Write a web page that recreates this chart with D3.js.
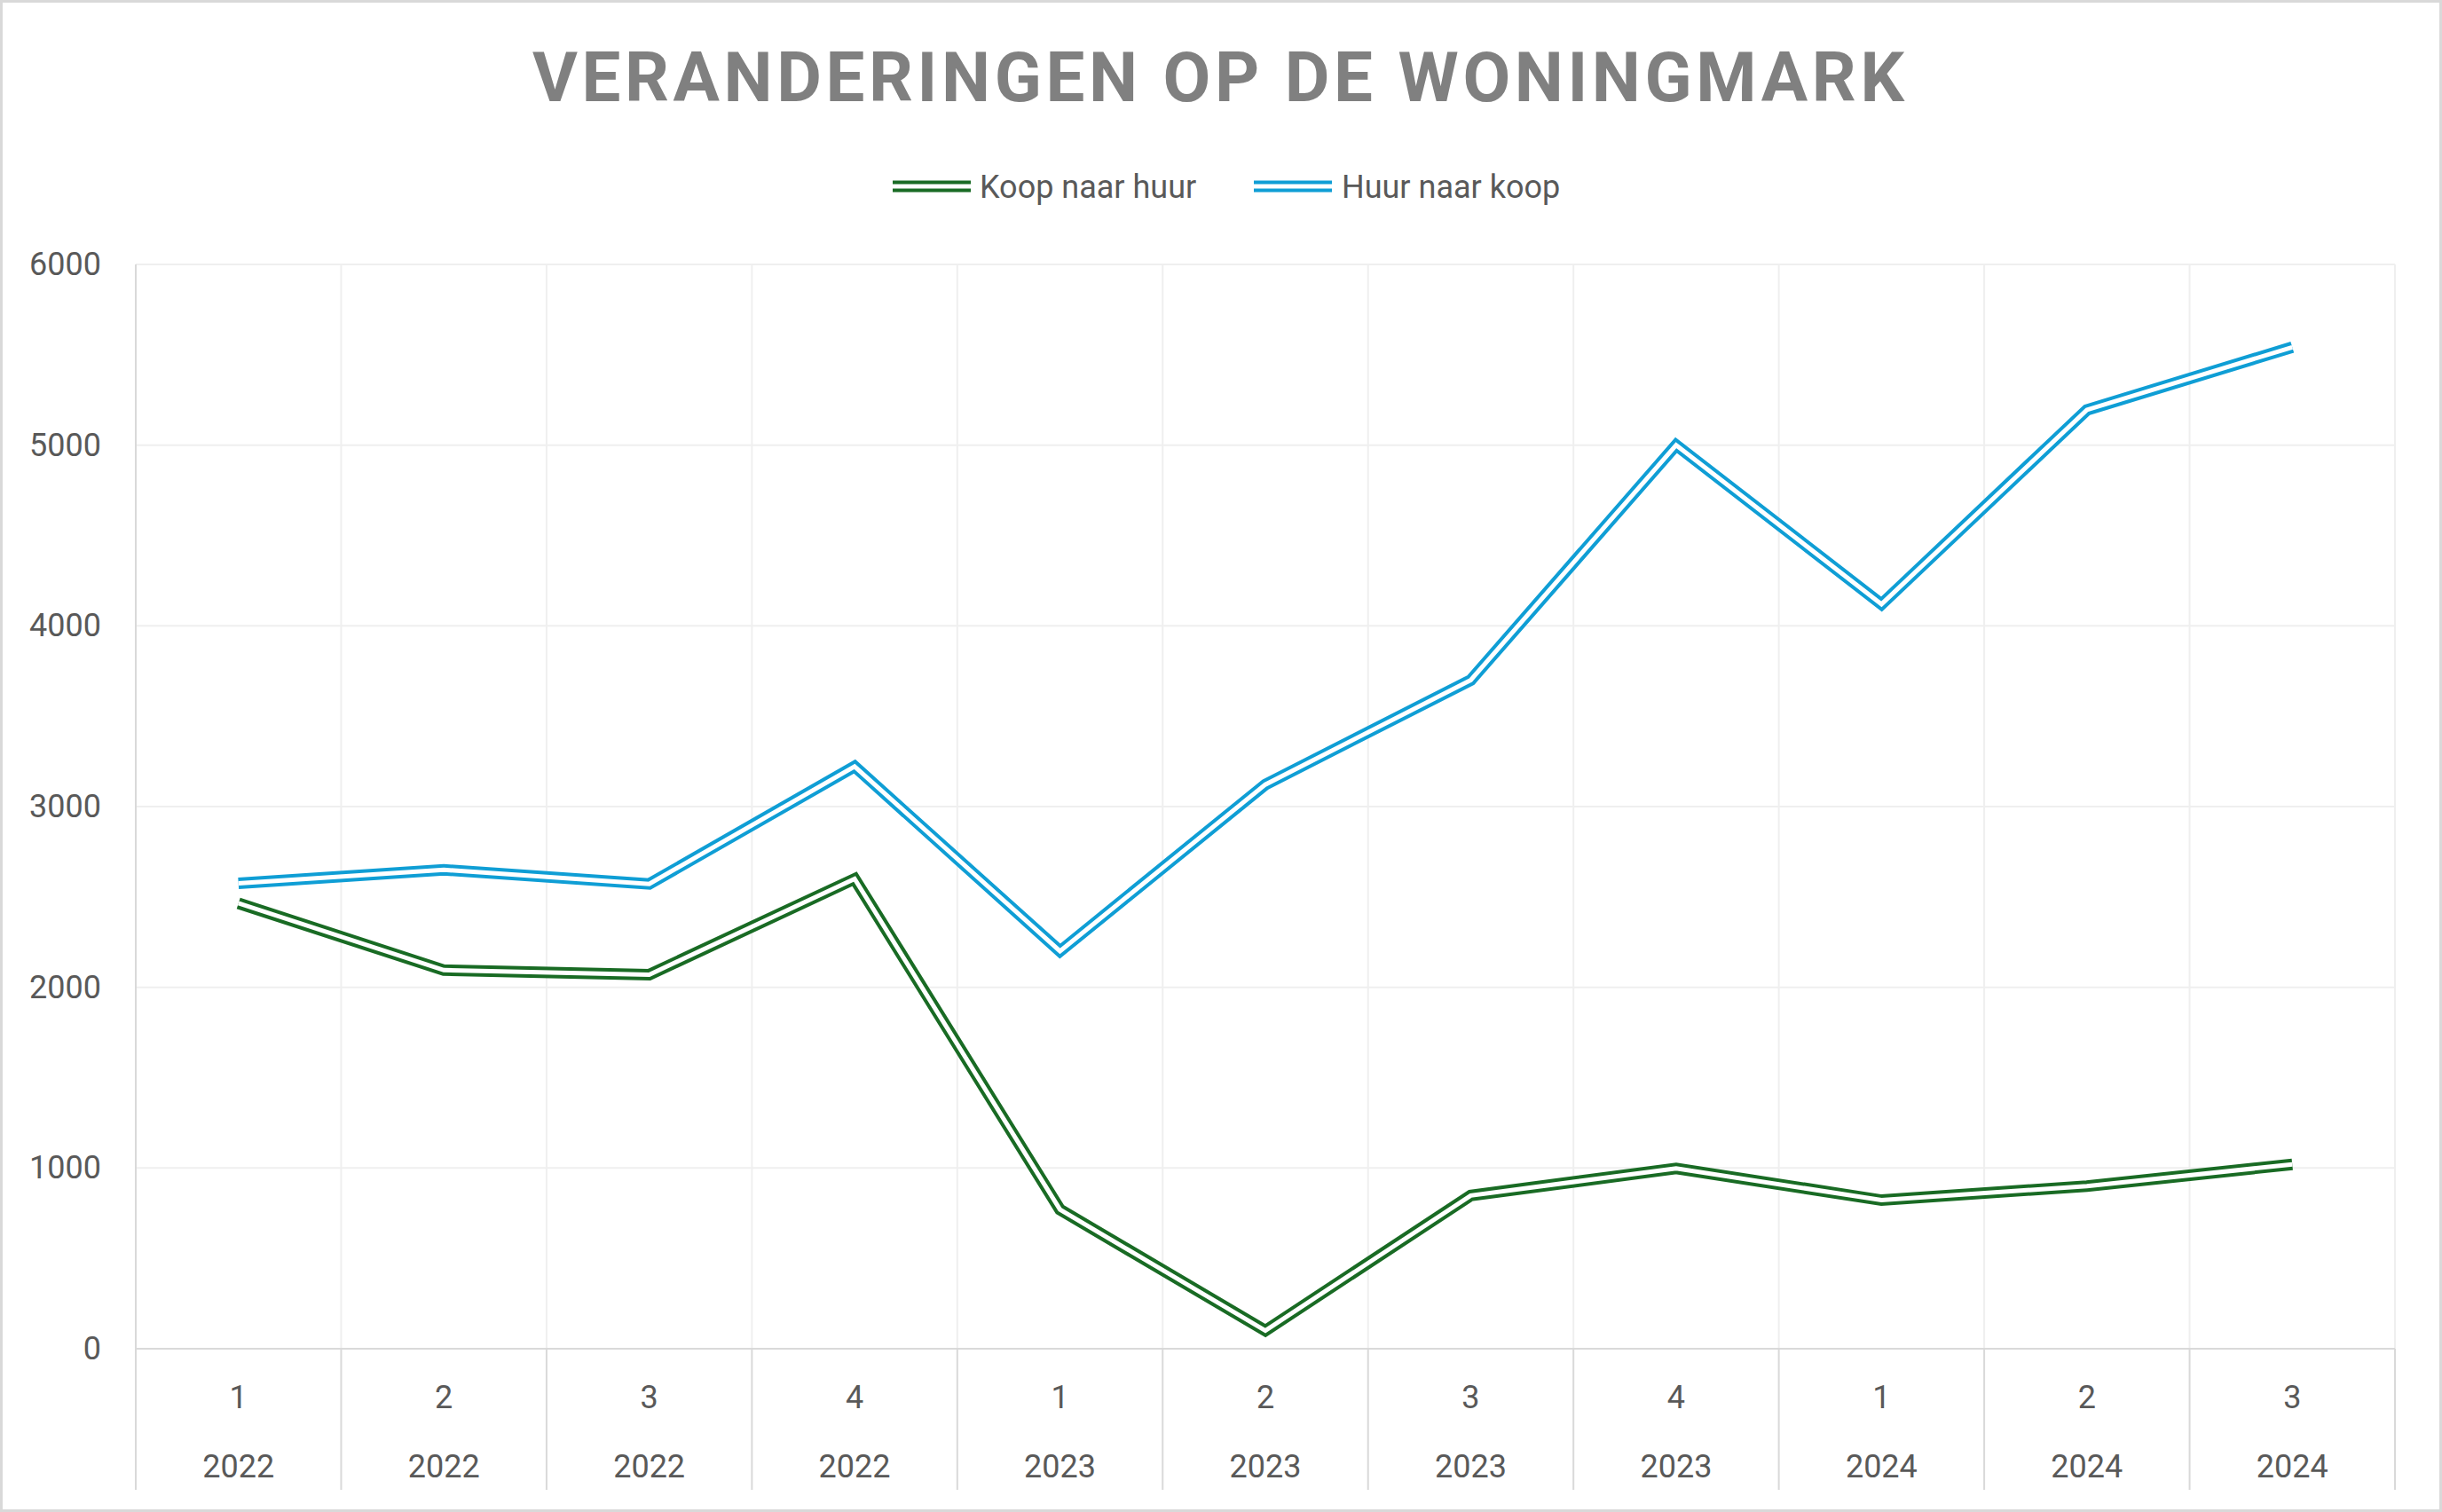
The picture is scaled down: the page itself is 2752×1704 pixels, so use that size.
<!DOCTYPE html>
<html>
<head>
<meta charset="utf-8">
<script src="https://cdn.jsdelivr.net/npm/d3@7"></script>
<style>
  html, body { margin: 0; padding: 0; background: #ffffff; }
  svg { display: block; }
</style>
</head>
<body>
<svg id="chart" width="2752" height="1704"></svg>
<script>
// ---- data ----
const quarters = ["1", "2", "3", "4", "1", "2", "3", "4", "1", "2", "3"];
const years = ["2022", "2022", "2022", "2022", "2023", "2023", "2023", "2023", "2024", "2024", "2024"];
const koopNaarHuur = [2465, 2095, 2070, 2600, 770, 100, 848, 998, 822, 900, 1020];
const huurNaarKoop = [2575, 2650, 2572, 3222, 2200, 3122, 3700, 5000, 4120, 5195, 5542];
const yTicks = [0, 1000, 2000, 3000, 4000, 5000, 6000];
const seriesNames = ["Koop naar huur", "Huur naar koop"];
const seriesColors = ["#196B24", "#0F9ED5"];
const titleText = "VERANDERINGEN OP DE WONINGMARK";

// ---- layout ----
const W = 2752, H = 1704;
const plot = { left: 153, right: 2699, top: 298, bottom: 1520 };
const catAxisBottom = 1679;
const font = "Roboto, 'Liberation Sans', sans-serif";
const textColor = "#595959";

const svg = d3.select("#chart");

// outer border
svg.append("rect")
  .attr("x", 1.5).attr("y", 1.5)
  .attr("width", W - 3).attr("height", H - 3)
  .attr("fill", "#ffffff")
  .attr("stroke", "#d9d9d9").attr("stroke-width", 3);

const idx = d3.range(quarters.length);
const x = d3.scaleBand().domain(idx).range([plot.left, plot.right]).paddingInner(0).paddingOuter(0);
const y = d3.scaleLinear().domain([0, 6000]).range([plot.bottom, plot.top]);
const cx = i => x(i) + x.bandwidth() / 2;

// horizontal gridlines
svg.append("g").selectAll("line")
  .data(yTicks.filter(v => v !== 0))
  .join("line")
  .attr("x1", plot.left).attr("x2", plot.right)
  .attr("y1", d => y(d)).attr("y2", d => y(d))
  .attr("stroke", "#efefef").attr("stroke-width", 2);

// vertical category separators (inside plot)
const bounds = d3.range(quarters.length + 1).map(k => k < quarters.length ? x(k) : plot.right);
svg.append("g").selectAll("line")
  .data(bounds.slice(1))
  .join("line")
  .attr("x1", d => d).attr("x2", d => d)
  .attr("y1", plot.top).attr("y2", plot.bottom)
  .attr("stroke", "#efefef").attr("stroke-width", 2);

// separators below axis
svg.append("g").selectAll("line")
  .data(bounds)
  .join("line")
  .attr("x1", d => d).attr("x2", d => d)
  .attr("y1", plot.bottom).attr("y2", catAxisBottom)
  .attr("stroke", "#d9d9d9").attr("stroke-width", 2);

// left axis line
svg.append("line")
  .attr("x1", plot.left).attr("x2", plot.left)
  .attr("y1", plot.top).attr("y2", catAxisBottom)
  .attr("stroke", "#d9d9d9").attr("stroke-width", 2);

// zero axis line
svg.append("line")
  .attr("x1", plot.left).attr("x2", plot.right)
  .attr("y1", y(0)).attr("y2", y(0))
  .attr("stroke", "#d9d9d9").attr("stroke-width", 2);

// y axis labels
const yAxis = svg.append("g")
  .attr("transform", `translate(${plot.left},0)`)
  .call(d3.axisLeft(y).tickValues(yTicks).tickSize(0).tickPadding(39).tickFormat(d3.format("d")));
yAxis.select(".domain").remove();
yAxis.selectAll("text")
  .attr("font-family", font).attr("font-size", 36).attr("fill", textColor);

// x axis labels: quarters row
const xAxis1 = svg.append("g")
  .attr("transform", `translate(0,${plot.bottom})`)
  .call(d3.axisBottom(x).tickSize(0).tickFormat(i => quarters[i]));
xAxis1.select(".domain").remove();
xAxis1.selectAll("text")
  .attr("y", 54).attr("dy", "0.35em")
  .attr("font-family", font).attr("font-size", 36).attr("fill", textColor);

// x axis labels: years row
const xAxis2 = svg.append("g")
  .attr("transform", `translate(0,${plot.bottom})`)
  .call(d3.axisBottom(x).tickSize(0).tickFormat(i => years[i]));
xAxis2.select(".domain").remove();
xAxis2.selectAll("text")
  .attr("y", 132).attr("dy", "0.35em")
  .attr("font-family", font).attr("font-size", 36).attr("fill", textColor);

// double lines
const line = d3.line().x((d, i) => cx(i)).y(d => y(d));
[koopNaarHuur, huurNaarKoop].forEach((vals, s) => {
  const g = svg.append("g");
  g.append("path").attr("d", line(vals))
    .attr("fill", "none").attr("stroke", seriesColors[s])
    .attr("stroke-width", 13).attr("stroke-linejoin", "miter").attr("stroke-miterlimit", 10);
  g.append("path").attr("d", line(vals))
    .attr("fill", "none").attr("stroke", "#ffffff")
    .attr("stroke-width", 5).attr("stroke-linejoin", "miter").attr("stroke-miterlimit", 10);
});

// title
svg.append("text")
  .attr("x", 600).attr("y", 114)
  .attr("textLength", 1546).attr("lengthAdjust", "spacing")
  .attr("font-family", font).attr("font-weight", "bold")
  .attr("font-size", 78).attr("fill", "#808080")
  .text(titleText);

// legend
const legendItems = [
  { name: seriesNames[0], color: seriesColors[0], x0: 1006, tx: 1104 },
  { name: seriesNames[1], color: seriesColors[1], x0: 1413, tx: 1512 }
];
const legY = 210;
const lg = svg.append("g");
legendItems.forEach(it => {
  lg.append("line").attr("x1", it.x0).attr("x2", it.x0 + 88)
    .attr("y1", legY).attr("y2", legY)
    .attr("stroke", it.color).attr("stroke-width", 13);
  lg.append("line").attr("x1", it.x0).attr("x2", it.x0 + 88)
    .attr("y1", legY).attr("y2", legY)
    .attr("stroke", "#ffffff").attr("stroke-width", 5);
  lg.append("text").attr("x", it.tx).attr("y", legY).attr("dy", "0.35em")
    .attr("font-family", font).attr("font-size", 36).attr("fill", textColor)
    .text(it.name);
});
</script>
</body>
</html>
